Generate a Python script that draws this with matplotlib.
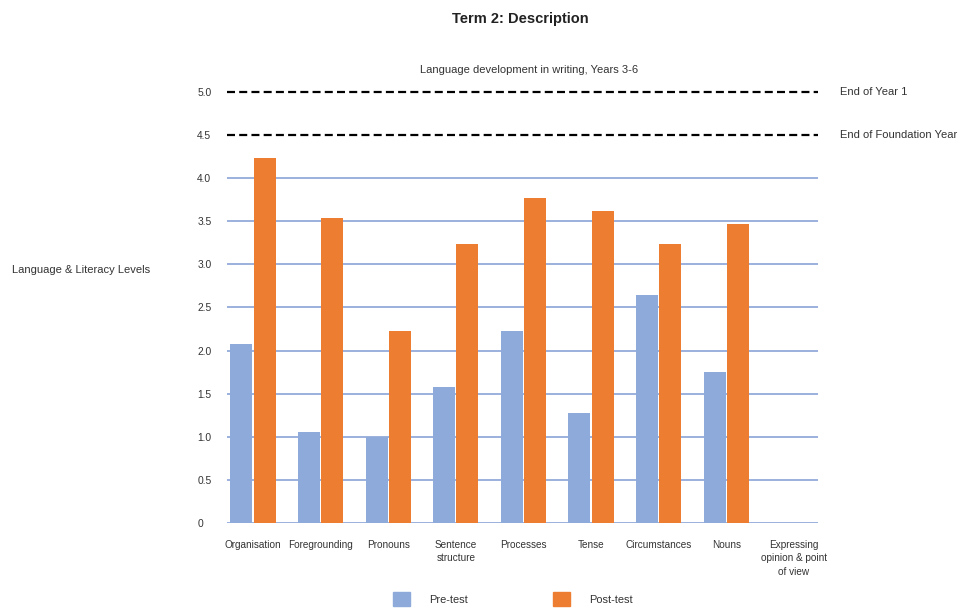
import matplotlib
matplotlib.use("Agg")
import matplotlib.pyplot as plt
import numpy as np
from matplotlib.patches import Patch

plt.rcParams['font.family'] = ['Liberation Sans', 'DejaVu Sans']

categories = ["Organisation", "Foregrounding", "Pronouns", "Sentence\nstructure",
              "Processes", "Tense", "Circumstances", "Nouns",
              "Expressing\nopinion & point\nof view"]
pre_test = [2.08, 1.05, 1.00, 1.58, 2.23, 1.28, 2.64, 1.75, 0.0]
post_test = [4.24, 3.54, 2.23, 3.24, 3.77, 3.62, 3.24, 3.47, 0.0]
benchmarks = [5.0, 4.5]
benchmark_labels = ["End of Year 1", "End of Foundation Year"]
y_ticks = [0, 0.5, 1.0, 1.5, 2.0, 2.5, 3.0, 3.5, 4.0, 4.5, 5.0]
y_tick_labels = ["0", "0.5", "1.0", "1.5", "2.0", "2.5", "3.0", "3.5", "4.0", "4.5", "5.0"]

pre_color = "#8EAADB"
post_color = "#ED7D31"
grid_color = "#9BB1DE"
text_color = "#333333"

W, H = 960, 610
fig = plt.figure(figsize=(W / 100, H / 100), dpi=100)

px_per_unit = 86.2
ymax = 5.1
ax_left, ax_right = 227, 818
ax_bottom_px = 523
ax_height_px = ymax * px_per_unit
ax = fig.add_axes([ax_left / W, (H - ax_bottom_px) / H,
                   (ax_right - ax_left) / W, ax_height_px / H])

x = np.arange(len(categories))
bw = 0.325
ax.bar(x - bw / 2 - 0.008, pre_test, width=bw, color=pre_color, zorder=3)
ax.bar(x + bw / 2 + 0.008, post_test, width=bw, color=post_color, zorder=3)

spacing = 67.6
x0 = (ax_left - 253) / spacing
x1 = (ax_right - 253) / spacing
ax.set_xlim(x0, x1)
ax.set_ylim(0, ymax)

# Horizontal guide lines up to 4.0
for v in y_ticks:
    if v <= 4.0:
        ax.axhline(v, color=grid_color, lw=1.4, zorder=1)

# Benchmark dashed lines with labels on the right
for v, lab in zip(benchmarks, benchmark_labels):
    ax.axhline(v, color="black", lw=1.6, ls=(0, (3.6, 1.9)), zorder=2)
    ax.text(840 / W, (H - (ax_bottom_px - v * px_per_unit)) / H, lab,
            transform=fig.transFigure, ha="left", va="center",
            fontsize=8, color=text_color)

for s in ax.spines.values():
    s.set_visible(False)

ax.set_yticks(y_ticks)
ax.set_yticklabels(y_tick_labels, fontsize=7.4, color=text_color, ha="left")
ax.tick_params(axis="y", length=0, pad=21.5)
ax.set_xticks(x)
ax.set_xticklabels(categories, fontsize=7.2, color=text_color, linespacing=1.45)
ax.tick_params(axis="x", length=0, pad=12)

fig.text(520 / W, 1 - 19 / H, "Term 2: Description", ha="center", va="center",
         fontsize=10.5, fontweight="bold", color="#222222")
fig.text(529 / W, 1 - 70 / H, "Language development in writing, Years 3-6",
         ha="center", va="center", fontsize=8, color=text_color)
fig.text(12 / W, 1 - 270 / H, "Language & Literacy Levels", ha="left",
         va="center", fontsize=8, color=text_color)

# Legend
handles = [Patch(color=pre_color), Patch(color=post_color)]
leg = fig.legend(handles, ["Pre-test", "Post-test"], loc="center",
                 bbox_to_anchor=(513 / W, 1 - 599 / H), ncol=2, frameon=False,
                 fontsize=7.9, handlelength=1.55, handleheight=1.55,
                 columnspacing=7.7, handletextpad=1.8)
for t in leg.get_texts():
    t.set_color(text_color)

fig.savefig("out.png", dpi=100, facecolor="white")
